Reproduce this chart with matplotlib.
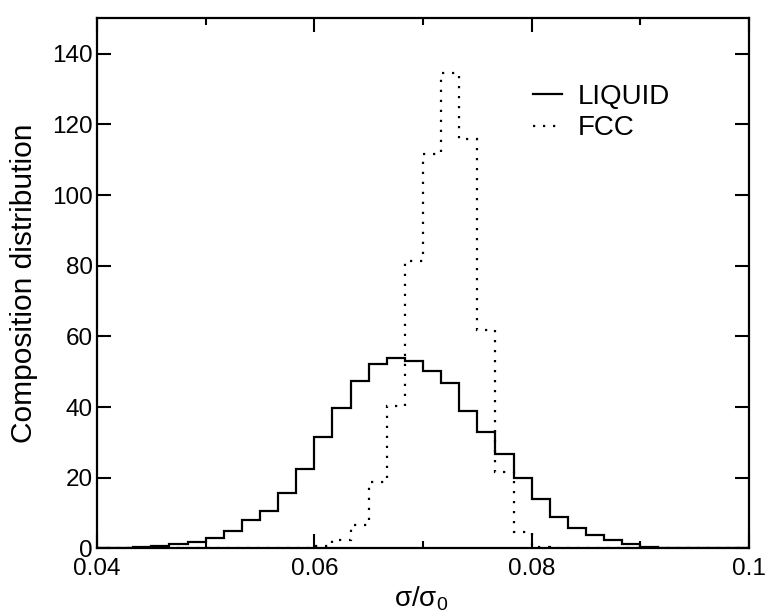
import numpy as np
import matplotlib
matplotlib.use("Agg")
import matplotlib.pyplot as plt
from matplotlib.ticker import MultipleLocator

plt.rcParams['font.family'] = ['Liberation Sans', 'DejaVu Sans']
plt.rcParams['mathtext.fontset'] = 'custom'
plt.rcParams['mathtext.rm'] = 'Liberation Sans'
plt.rcParams['mathtext.it'] = 'Liberation Sans'

# histogram bins: 36 bins from 0.04 to 0.1
bin_start = 0.04
bin_stop = 0.1
n_bins = 36

liquid = [0.1, 0.2, 0.3, 0.6, 1.1, 1.9, 2.8, 4.8, 8.0, 10.6, 15.7, 22.4,
          31.4, 39.8, 47.5, 52.1, 53.8, 52.9, 50.3, 46.7, 39.0, 33.0, 26.7, 20.0,
          13.9, 9.0, 5.8, 3.7, 2.4, 1.2, 0.4, 0.2, 0.1, 0.05, 0.0, 0.0]
fcc = [0.0] * 12 + [0.7, 2.5, 6.5, 18.9, 40.4, 81.2, 111.6, 134.6, 116.0,
                    61.9, 21.5, 4.5, 0.4] + [0.0] * 11

edges = np.linspace(bin_start, bin_stop, n_bins + 1)

fig = plt.figure(figsize=(7.67, 6.15), dpi=100)
ax = fig.add_axes([0.1265, 0.1084, 0.85, 0.8616])

ax.stairs(liquid, edges, color='black', linewidth=1.6, label='LIQUID')
ax.stairs(fcc, edges, color='black', linewidth=1.6,
          linestyle=(0, (1, 3.5)), label='FCC')

ax.set_xlim(0.04, 0.1)
ax.set_ylim(0, 150)
ax.xaxis.set_major_locator(MultipleLocator(0.02))
ax.xaxis.set_minor_locator(MultipleLocator(0.01))
ax.yaxis.set_major_locator(MultipleLocator(20))
ax.set_xticks([0.04, 0.06, 0.08, 0.1])
ax.set_xticklabels(['0.04', '0.06', '0.08', '0.1'])

ax.tick_params(which='both', direction='in', top=True, right=True,
               width=1.5, labelsize=17.5, colors='black')
ax.tick_params(which='major', length=10)
ax.tick_params(which='minor', length=5)
ax.tick_params(axis='x', pad=7)
ax.tick_params(axis='y', pad=3)
for s in ax.spines.values():
    s.set_linewidth(1.6)

ax.set_xlabel('σ/σ$_0$', fontsize=20)
ax.xaxis.set_label_coords(0.497, -0.068)
ax.set_ylabel('Composition distribution', fontsize=21.5)
ax.yaxis.set_label_coords(-0.0905, 0.5)

ax.legend(frameon=False, loc='upper left', bbox_to_anchor=(0.647, 0.903),
          fontsize=20, handlelength=1.05, handletextpad=0.58,
          labelspacing=0.2, borderpad=0)

fig.savefig('out.png', dpi=100)
